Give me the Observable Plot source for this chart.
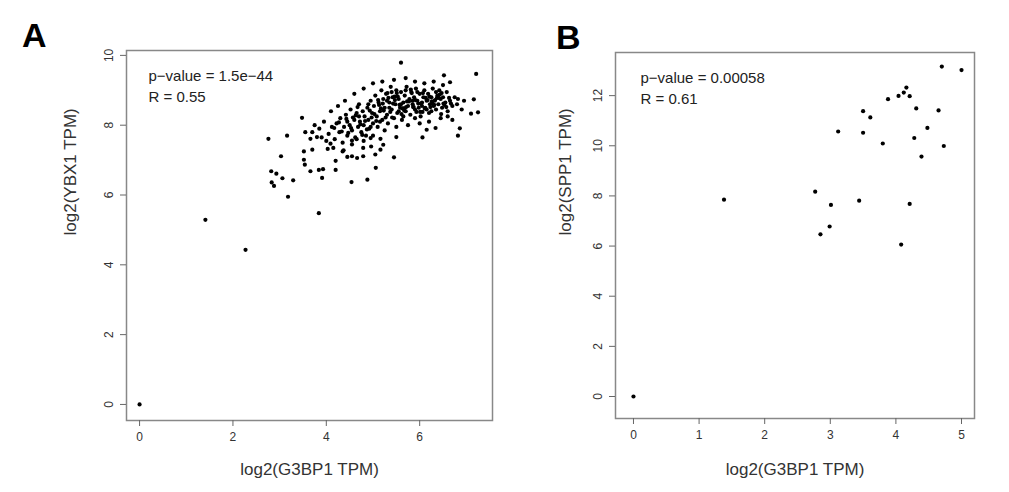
<!DOCTYPE html>
<html><head><meta charset="utf-8">
<script src="https://cdn.jsdelivr.net/npm/d3@7"></script>
<script src="https://cdn.jsdelivr.net/npm/@observablehq/plot@0.6"></script>
<style>
body{margin:0;background:#fff;font-family:"Liberation Sans",Arial,sans-serif;}
#wrap{position:relative;width:1009px;height:492px;}
.pn{position:absolute;top:0;z-index:1;}
.lab{position:absolute;font-size:34px;font-weight:bold;color:#000;z-index:5;}
</style></head><body>
<div id="wrap">
<div class="pn" id="pa" style="left:0"></div>
<div class="pn" id="pb" style="left:500px"></div>
<div class="lab" style="left:22px;top:16px">A</div>
<div class="lab" style="left:556px;top:18px">B</div>
</div>
<script>
const xA = [0,1.41,2.27,5.60,7.21,6.52,6.65,7.16,6.82,7.25,7.10,6.86,6.82,6.06,6.15,6.34,5.50,5.45,5.06,4.88,4.54,3.91,3.84,3.93,3.66,3.29,3.18,3.06,2.88,2.83,2.93,2.82,3.03,2.76,3.16,3.48,3.55,3.66,3.80,3.52,3.52,3.54,3.70,4.03,4.09,4.20,4.37,4.45,4.55,4.66,4.79,4.79,4.96,5.05,5.16,5.22,5.16,4.95,4.55,4.20,3.84,
4.05,4.12,4.18,4.22,4.28,4.3,4.35,4.38,4.42,4.45,4.5,4.52,4.55,4.6,4.62,4.65,4.68,4.7,4.72,4.75,4.78,4.8,4.82,4.85,4.88,4.9,4.92,4.95,4.98,5.0,5.02,5.05,5.08,5.1,5.12,5.15,5.18,5.2,5.22,5.25,5.28,5.3,5.32,5.35,5.38,5.4,5.42,5.45,5.48,5.5,5.52,5.55,5.58,5.6,5.62,5.65,5.68,5.7,5.72,5.75,5.78,5.8,5.82,5.85,5.88,5.9,5.92,5.95,5.98,6.0,6.02,6.05,6.08,6.1,6.12,6.15,6.18,6.2,6.22,6.25,6.28,6.3,6.32,6.35,6.38,6.4,6.42,6.45,6.48,6.5,6.55,6.58,6.6,6.65,6.7,6.75,6.8,6.9,6.95,
3.85,3.9,3.95,4.0,4.1,4.25,4.4,4.6,4.8,5.0,5.2,5.45,5.7,5.9,6.1,6.3,6.5,4.15,4.35,4.55,4.8,5.0,5.25,5.5,5.75,6.0,6.2,6.45,6.6,6.7,3.7,3.75,5.35,5.6,5.85,6.05,5.55,5.3,5.7,5.95,6.15,6.35,5.4,5.65,5.9,6.25,4.45,4.65,4.9,5.15,4.7,4.95,
5.03,5.13,5.23,5.33,5.43,5.53,5.63,5.73,5.83,5.93,6.03,6.13,6.23,6.33,6.43,6.53,6.63,5.07,5.17,5.27,5.37,5.47,5.57,5.67,5.77,5.87,5.97,6.07,6.17,6.27,6.37,6.47,6.57,6.67,5.11,5.21,5.31,5.41,5.51,5.61,5.71,5.81,5.91,6.01,6.11,6.21,6.31,6.41,6.51,4.33,4.43,4.53,4.63,4.73,4.83,4.93,4.27,4.47,4.67,4.87,4.97,4.17,4.57,4.77,5.46,5.66,5.86,6.06,6.26,6.46];
const yA = [0,5.29,4.43,9.79,9.47,9.43,9.23,8.74,8.75,8.37,8.33,7.91,7.70,7.65,7.87,7.92,7.66,7.08,6.78,6.44,6.37,6.49,6.72,6.74,6.68,6.42,5.95,6.48,6.26,6.36,6.61,6.68,7.11,7.61,7.70,8.21,7.80,7.61,7.66,7.25,7.01,6.87,7.30,7.32,7.47,6.98,7.28,7.09,7.11,7.06,7.11,7.35,7.39,7.16,7.30,7.44,7.61,7.63,7.56,6.72,5.48,
7.75,7.95,7.6,8.05,7.8,8.2,7.5,7.95,8.3,7.7,8.0,8.45,7.85,8.15,7.65,8.35,7.95,8.6,8.1,7.8,8.4,8.0,8.25,7.7,8.5,8.15,7.9,8.7,8.35,8.05,8.55,8.85,8.25,7.95,8.65,8.4,9.0,8.15,8.75,8.5,8.9,8.3,8.05,8.65,9.1,8.45,8.8,8.2,8.6,9.0,8.35,8.75,8.5,8.95,8.15,8.65,8.85,8.4,9.1,8.55,8.75,8.3,8.95,8.6,8.8,8.45,9.05,8.7,8.5,8.9,8.25,8.65,8.8,9.0,8.5,8.7,8.9,8.35,8.6,8.8,9.05,8.55,8.7,8.45,8.85,8.6,9.0,8.75,8.5,8.8,8.65,8.95,8.4,8.7,8.55,8.8,8.6,8.45,8.7,
7.9,7.65,8.1,7.55,8.4,8.55,8.7,8.9,9.05,9.2,9.25,9.3,9.35,9.25,9.2,9.25,9.15,7.35,7.25,7.45,7.55,7.7,7.85,7.95,8.0,8.05,8.1,8.2,8.25,8.15,7.8,8.0,8.5,8.6,8.7,8.55,8.4,8.7,9.0,8.95,8.45,8.95,8.95,8.25,8.2,8.4,8.1,7.6,8.6,8.1,8.25,7.95,
8.32,8.58,8.42,8.78,8.62,8.82,8.48,8.68,8.92,8.38,8.62,8.78,8.52,8.72,8.88,8.58,8.78,8.12,8.48,8.22,8.38,8.72,8.58,8.42,8.68,8.52,8.62,8.92,8.72,8.62,8.78,8.92,8.52,8.62,8.72,8.62,8.92,8.22,8.92,8.32,8.52,9.02,8.72,8.38,8.48,8.82,8.58,8.78,8.62,7.82,8.18,7.92,8.28,8.02,8.12,8.42,8.08,7.78,8.52,7.88,8.22,7.92,8.22,7.72,8.82,8.48,8.52,8.38,8.68,8.32];
const xB = [0,1.38,4.70,5.00,4.16,4.12,4.04,4.21,3.88,4.31,4.65,3.50,3.61,3.12,3.50,4.48,4.28,3.80,4.73,4.39,2.77,3.01,3.44,4.21,2.99,2.85,4.08];
const yB = [0,7.85,13.16,13.02,12.32,12.12,11.99,11.98,11.86,11.49,11.41,11.38,11.13,10.57,10.52,10.71,10.31,10.09,9.99,9.57,8.17,7.64,7.81,7.68,6.78,6.47,6.06];
const ticksA = {x:[0,2,4,6], y:[0,2,4,6,8,10]};
const ticksB = {x:[0,1,2,3,4,5], y:[0,2,4,6,8,10,12]};

function panel(xs, ys, o){
  const data = xs.map((x,i)=>({x, y:ys[i]}));
  return Plot.plot({
    width:o.w, height:492,
    marginLeft:o.ml, marginRight:o.mr, marginTop:o.mt, marginBottom:o.mb,
    style:{fontFamily:"Liberation Sans, Arial, sans-serif", color:"#333", background:"transparent"},
    x:{domain:o.xd, ticks:o.xt, label:null},
    y:{domain:o.yd, ticks:o.yt, label:null},
    marks:[
      Plot.frame({stroke:"#888", strokeWidth:1.5}),
      Plot.axisX({ticks:o.xt, tickFormat:"d", tickSize:6, tickPadding:6, fontSize:12, stroke:"#666", label:null}),
      Plot.axisY({ticks:o.yt, tickFormat:"d", tickSize:6, tickRotate:-90, tickPadding:8, fontSize:12, stroke:"#666", label:null}),
      Plot.dot(data, {x:"x", y:"y", r:2.1, fill:"#000", stroke:"none"}),
      Plot.text([o.t1], {frameAnchor:"top-left", dx:o.tdx, dy:20, fontSize:15, fill:"#222", textAnchor:"start"}),
      Plot.text([o.t2], {frameAnchor:"top-left", dx:o.tdx, dy:41, fontSize:15, fill:"#222", textAnchor:"start"}),
      Plot.text([o.xl], {frameAnchor:"bottom", dy:o.mb-18, fontSize:17, fill:"#333"}),
      Plot.text([o.yl], {frameAnchor:"left", dx:-o.ml+o.ylx, rotate:-90, fontSize:17, fill:"#333"})
    ]
  });
}
document.getElementById("pa").append(panel(xA, yA, {w:500, ml:126, mr:8, mt:50, mb:72,
  xd:[-0.28,7.56], yd:[-0.46,10.14], xt:ticksA.x, yt:ticksA.y,
  t1:"p\u2212value = 1.5e\u221244", t2:"R = 0.55", tdx:22,
  xl:"log2(G3BP1 TPM)", yl:"log2(YBX1 TPM)", ylx:70}));
document.getElementById("pb").append(panel(xB, yB, {w:509, ml:115, mr:35, mt:52, mb:74,
  xd:[-0.274,5.198], yd:[-0.877,13.72], xt:ticksB.x, yt:ticksB.y,
  t1:"p\u2212value = 0.00058", t2:"R = 0.61", tdx:25,
  xl:"log2(G3BP1 TPM)", yl:"log2(SPP1 TPM)", ylx:65}));
</script>
</body></html>
